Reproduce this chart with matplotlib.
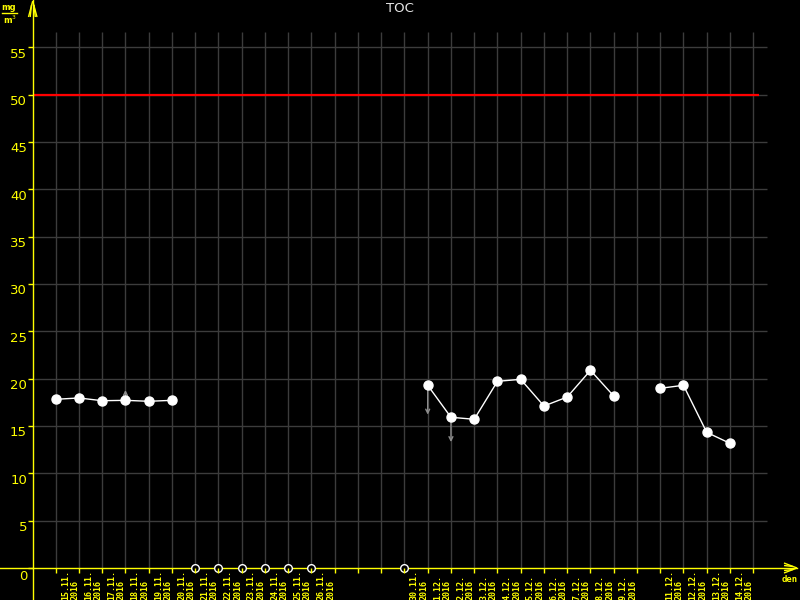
import matplotlib
matplotlib.use('Agg')
import matplotlib.pyplot as plt
import numpy as np
import pandas as pd

# --- data ---
TITLE = 'TOC'
START = pd.Timestamp('2016-11-15')
END = pd.Timestamp('2016-12-15')

meas_dates = ['2016-11-15', '2016-11-16', '2016-11-17', '2016-11-18', '2016-11-19', '2016-11-20',
              '2016-12-01', '2016-12-02', '2016-12-03', '2016-12-04', '2016-12-05', '2016-12-06',
              '2016-12-07', '2016-12-08', '2016-12-09',
              '2016-12-11', '2016-12-12', '2016-12-13', '2016-12-14']
toc_values = [17.82, 17.96, 17.67, 17.71, 17.61, 17.71,
              19.30, 15.92, 15.71, 19.72, 19.93, 17.11,
              18.06, 20.88, 18.17,
              18.98, 19.30, 14.33, 13.17]

missing_dates = ['2016-11-21', '2016-11-22', '2016-11-23', '2016-11-24', '2016-11-25',
                 '2016-11-26', '2016-11-30']

# small grey arrows (min / max excursions)
arrow_dates = ['2016-11-16', '2016-11-17', '2016-11-18', '2016-12-01', '2016-12-02']
arrow_ends = [18.5, 17.3, 18.8, 16.2, 13.3]

limit_value = 50
y_ticks = [0, 5, 10, 15, 20, 25, 30, 35, 40, 45, 50, 55]
y_unit_top, y_unit_bottom = 'mg', 'm$^3$'
x_unit = 'den'

YELLOW = '#ffff00'
GRID = '#3c3c3c'

# pixel layout of the original canvas (800x600)
DAY_PX, X0_PX = 23.25, 55.7
UNIT_PX, Y0_PX = 9.467, 568.0


def px(x, y):
    """pixel position -> data coordinates"""
    return (x - X0_PX) / DAY_PX, (Y0_PX - y) / UNIT_PX


def day(s):
    return (pd.Timestamp(s) - START).days


fig = plt.figure(figsize=(8, 6), dpi=100, facecolor='black')
ax = fig.add_axes([0, 0, 1, 1])
ax.set_axis_off()
x_lo, y_top = px(0, 0)
x_hi, y_lo = px(800, 600)
ax.set_xlim(x_lo, x_hi)
ax.set_ylim(y_lo, y_top)

n_days = (END - START).days
all_days = np.arange(0, n_days + 1)
yax_x = px(32.7, 0)[0]
grid_right = px(766.7, 0)[0]
grid_top = px(0, 32)[1]

# grid
ax.hlines(y_ticks[1:], yax_x, grid_right, color=GRID, lw=1.0, zorder=1)
ax.vlines(all_days, 0, grid_top, color=GRID, lw=1.0, zorder=1)

# limit line
ax.hlines(limit_value, yax_x, px(759, 0)[0], color='#ff0000', lw=1.6, zorder=2)

# axes
ax.axhline(0, xmin=0, xmax=797 / 800, color=YELLOW, lw=1.0, zorder=2)
ax.axvline(yax_x, color=YELLOW, lw=1.0, zorder=2)

# axis arrows
for (x1, y1), (x2, y2) in [((32.7, 1), (28.5, 17)), ((32.7, 1), (37, 17)),
                           ((31.5, 5), (30.2, 17)), ((34, 5), (35.3, 17)),
                           ((797, 568), (784, 563)), ((797, 568), (784, 573)),
                           ((793, 566.5), (784, 565.5)), ((793, 569.5), (784, 570.5))]:
    a, b = px(x1, y1), px(x2, y2)
    ax.plot([a[0], b[0]], [a[1], b[1]], color=YELLOW, lw=1.0, zorder=2,
            solid_capstyle='butt')

# y ticks + labels
tick_x0 = px(28, 0)[0]
ax.hlines(y_ticks, tick_x0, yax_x, color=YELLOW, lw=1.0, zorder=2)
lab_x = px(27, 0)[0]
for v in y_ticks:
    yy = v - 7.0 / UNIT_PX if v else px(0, 576)[1]
    ax.text(lab_x, yy, str(v), color=YELLOW, fontsize=9.5, family='DejaVu Sans',
            ha='right', va='center')

# x ticks
ax.vlines(all_days, 0, px(0, 572.5)[1], color=YELLOW, lw=1.0, zorder=5)

# missing-value markers
miss_x = [day(d) for d in missing_dates]
ax.plot(miss_x, np.zeros(len(miss_x)), 'o', ms=5.5, mfc='black', mec='white',
        mew=1.0, zorder=4, ls='none')

# date labels (start at the bottom edge, read upwards)
label_dates = sorted(meas_dates + missing_dates)
lab_y = px(0, 599.5)[1]
for d in label_dates:
    t = pd.Timestamp(d)
    ax.text(day(d) + 0.62, lab_y, f'{t.day}.{t.month}.\n{t.year}', color=YELLOW,
            fontsize=6.0, family='DejaVu Sans Mono', fontweight='bold',
            rotation=90, ha='center', va='bottom', multialignment='left',
            linespacing=1.1)

# grey min/max arrows
vals = dict(zip(meas_dates, toc_values))
for d, end in zip(arrow_dates, arrow_ends):
    ax.annotate('', xy=(day(d), end), xytext=(day(d), vals[d]),
                arrowprops=dict(arrowstyle='->', color='#8c8c8c', lw=1.0,
                                shrinkA=0, shrinkB=0, mutation_scale=7),
                zorder=3)

# measured series: connect consecutive days only
mx = np.array([day(d) for d in meas_dates])
my = np.array(toc_values)
breaks = np.where(np.diff(mx) > 1)[0] + 1
for sx, sy in zip(np.split(mx, breaks), np.split(my, breaks)):
    ax.plot(sx, sy, color='white', lw=1.0, marker='o', ms=6.5, mfc='white',
            mec='white', zorder=4)

# texts
ax.text(px(400, 0)[0], px(0, 8)[1], TITLE, color='#e6e6e6', fontsize=9.5,
        family='DejaVu Sans', ha='center', va='center')
ax.text(px(9, 0)[0], px(0, 8)[1], y_unit_top, color=YELLOW, fontsize=6,
        fontweight='bold', ha='center', va='center')
a, b = px(2, 13.3), px(17, 13.3)
ax.plot([a[0], b[0]], [a[1], b[1]], color=YELLOW, lw=1.0)
ax.text(px(10, 0)[0], px(0, 20)[1], y_unit_bottom, color=YELLOW, fontsize=6,
        fontweight='bold', ha='center', va='center')
ax.text(px(789.5, 0)[0], px(0, 580)[1], x_unit, color=YELLOW, fontsize=6.5,
        family='DejaVu Sans Mono', fontweight='bold', ha='center', va='center')

fig.savefig('out.png', dpi=100, facecolor='black')
